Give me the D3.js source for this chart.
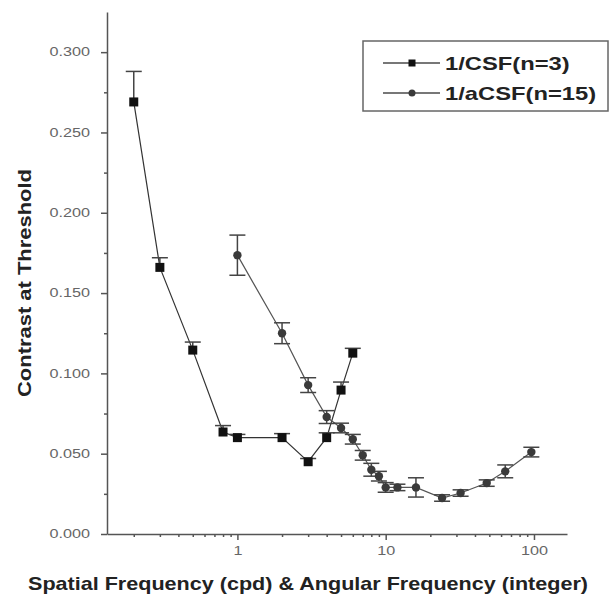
<!DOCTYPE html>
<html>
<head>
<meta charset="utf-8">
<script src="https://cdn.jsdelivr.net/npm/d3@7"></script>
<style>
  body { margin: 0; background: #fff; }
  svg { display: block; font-family: "Liberation Sans", Arial, sans-serif; }
  .axis path, .axis line { stroke: #555; stroke-width: 1.5; }
  .axis text { fill: #666; font-size: 12px; }
</style>
</head>
<body>
<div id="wrapper"></div>
<script>
// 1/CSF (spatial frequency, cpd) - plus-only error bars
const csfFreq = [0.2, 0.3, 0.5, 0.8, 1, 2, 3, 4, 5, 6]
const csfValue = [0.269, 0.166, 0.1145, 0.0635, 0.060, 0.060, 0.045, 0.060, 0.0896, 0.1126]
const csfErrUp = [0.019, 0.006, 0.005, 0.004, 0.002, 0.0025, 0.002, 0.003, 0.005, 0.003]

// 1/aCSF (angular frequency, integer) - symmetric error bars
const acsfFreq = [1, 2, 3, 4, 5, 6, 7, 8, 9, 10, 12, 16, 24, 32, 48, 64, 96]
const acsfValue = [0.1736, 0.125, 0.0927, 0.0728, 0.066, 0.059, 0.049, 0.040, 0.036, 0.029, 0.029, 0.029, 0.0224, 0.0255, 0.0317, 0.039, 0.051]
const acsfErr = [0.0125, 0.0065, 0.0046, 0.004, 0.003, 0.003, 0.003, 0.004, 0.003, 0.003, 0.002, 0.006, 0.002, 0.002, 0.002, 0.004, 0.003]

const xMajorTicks = [1, 10, 100]
const yMajorTicks = [0, 0.05, 0.1, 0.15, 0.2, 0.25, 0.3]
const yMinorTicks = [0.025, 0.075, 0.125, 0.175, 0.225, 0.275]

const seriesNames = ["1/CSF(n=3)", "1/aCSF(n=15)"]
const xLabel = "Spatial Frequency (cpd) & Angular Frequency (integer)"
const yLabel = "Contrast at Threshold"

const dimensions = {
  width: 613,
  height: 599,
  margin: { top: 12, right: 46, bottom: 65, left: 107 },
}
dimensions.boundedWidth = dimensions.width - dimensions.margin.left - dimensions.margin.right
dimensions.boundedHeight = dimensions.height - dimensions.margin.top - dimensions.margin.bottom

// the picture is stretched sideways, so the text is too
const widen = (sel, k) => sel.each(function () {
  const len = this.getComputedTextLength()
  d3.select(this).attr("textLength", len * k).attr("lengthAdjust", "spacingAndGlyphs")
})

const wrapper = d3.select("#wrapper")
  .append("svg")
    .attr("width", dimensions.width)
    .attr("height", dimensions.height)

const bounds = wrapper.append("g")
    .attr("transform", `translate(${dimensions.margin.left},${dimensions.margin.top})`)

// scales
const xScale = d3.scaleLog()
  .domain([0.132, 167])
  .range([0, dimensions.boundedWidth])

const yScale = d3.scaleLinear()
  .domain([0, 0.325])
  .range([dimensions.boundedHeight, 0])

const xMinorTicks = xScale.ticks().filter(d => !xMajorTicks.includes(d))

// axes
const xAxis = bounds.append("g")
    .attr("class", "axis")
    .attr("transform", `translate(0,${dimensions.boundedHeight})`)
    .call(d3.axisBottom(xScale).tickValues(xMajorTicks).tickSize(6).tickSizeOuter(0).tickPadding(6).tickFormat(d3.format("d")))
bounds.append("g")
    .attr("class", "axis")
    .attr("transform", `translate(0,${dimensions.boundedHeight})`)
    .call(d3.axisBottom(xScale).tickValues(xMinorTicks).tickSize(3).tickSizeOuter(0).tickFormat(""))
    .select(".domain").remove()

const yAxis = bounds.append("g")
    .attr("class", "axis")
    .call(d3.axisLeft(yScale).tickValues(yMajorTicks).tickSize(6).tickSizeOuter(0).tickPadding(11).tickFormat(d3.format(".3f")))
bounds.append("g")
    .attr("class", "axis")
    .call(d3.axisLeft(yScale).tickValues(yMinorTicks).tickSize(3).tickSizeOuter(0).tickFormat(""))
    .select(".domain").remove()

xAxis.selectAll("text").call(widen, 1.35)
yAxis.selectAll("text").call(widen, 1.35)

// lines
const line = d3.line()
  .x(d => xScale(d[0]))
  .y(d => yScale(d[1]))

const csfData = csfFreq.map((f, i) => [f, csfValue[i], csfErrUp[i], 0])
const acsfData = acsfFreq.map((f, i) => [f, acsfValue[i], acsfErr[i], acsfErr[i]])

bounds.append("path")
    .datum(csfData)
    .attr("d", line)
    .attr("fill", "none")
    .attr("stroke", "#333")
    .attr("stroke-width", 1.2)
bounds.append("path")
    .datum(acsfData)
    .attr("d", line)
    .attr("fill", "none")
    .attr("stroke", "#555")
    .attr("stroke-width", 1.2)

// error bars
const capHalf = 8
const drawErrors = (data, cls) => {
  const g = bounds.append("g").attr("class", cls)
      .attr("stroke", "#444")
      .attr("stroke-width", 1.5)
  const bars = g.selectAll("g").data(data).join("g")
  bars.append("line")
      .attr("x1", d => xScale(d[0]))
      .attr("x2", d => xScale(d[0]))
      .attr("y1", d => yScale(d[1] - d[3]))
      .attr("y2", d => yScale(d[1] + d[2]))
  bars.append("line")
      .attr("x1", d => xScale(d[0]) - capHalf)
      .attr("x2", d => xScale(d[0]) + capHalf)
      .attr("y1", d => yScale(d[1] + d[2]))
      .attr("y2", d => yScale(d[1] + d[2]))
  bars.filter(d => d[3] > 0).append("line")
      .attr("x1", d => xScale(d[0]) - capHalf)
      .attr("x2", d => xScale(d[0]) + capHalf)
      .attr("y1", d => yScale(d[1] - d[3]))
      .attr("y2", d => yScale(d[1] - d[3]))
}
drawErrors(csfData, "csf-err")
drawErrors(acsfData, "acsf-err")

// markers
bounds.append("g").selectAll("rect")
  .data(csfData)
  .join("rect")
    .attr("x", d => xScale(d[0]) - 4.5)
    .attr("y", d => yScale(d[1]) - 4.5)
    .attr("width", 9)
    .attr("height", 9)
    .attr("fill", "#111")
bounds.append("g").selectAll("circle")
  .data(acsfData)
  .join("circle")
    .attr("cx", d => xScale(d[0]))
    .attr("cy", d => yScale(d[1]))
    .attr("r", 4.2)
    .attr("fill", "#3a3a3a")

// axis labels
wrapper.append("text")
    .attr("x", 308)
    .attr("y", 590)
    .attr("text-anchor", "middle")
    .style("font-size", "19px")
    .style("font-weight", "bold")
    .style("fill", "#222")
    .text(xLabel)
    .attr("textLength", 560)
    .attr("lengthAdjust", "spacingAndGlyphs")

wrapper.append("text")
    .attr("transform", "translate(31,283) rotate(-90)")
    .attr("text-anchor", "middle")
    .style("font-size", "19px")
    .style("font-weight", "bold")
    .style("fill", "#222")
    .text(yLabel)
    .attr("textLength", 228)
    .attr("lengthAdjust", "spacingAndGlyphs")

// legend
const legend = wrapper.append("g")
    .attr("transform", "translate(363,41)")
legend.append("rect")
    .attr("width", 245)
    .attr("height", 70)
    .attr("fill", "#fff")
    .attr("stroke", "#666")
    .attr("stroke-width", 1.5)

const rows = legend.selectAll(".row")
  .data(seriesNames)
  .join("g")
    .attr("class", "row")
    .attr("transform", (d, i) => `translate(0,${22 + i * 30})`)
rows.append("line")
    .attr("x1", 20)
    .attr("x2", 77)
    .attr("stroke", "#777")
    .attr("stroke-width", 2)
rows.filter((d, i) => i === 0).append("rect")
    .attr("x", 45.5).attr("y", -3.5).attr("width", 7).attr("height", 7)
    .attr("fill", "#111")
rows.filter((d, i) => i === 1).append("circle")
    .attr("cx", 49).attr("r", 3.5)
    .attr("fill", "#3a3a3a")
rows.append("text")
    .attr("x", 82)
    .attr("y", 7)
    .style("font-size", "19px")
    .style("font-weight", "bold")
    .style("fill", "#222")
    .text(d => d)
    .call(widen, 1.25)
</script>
</body>
</html>
